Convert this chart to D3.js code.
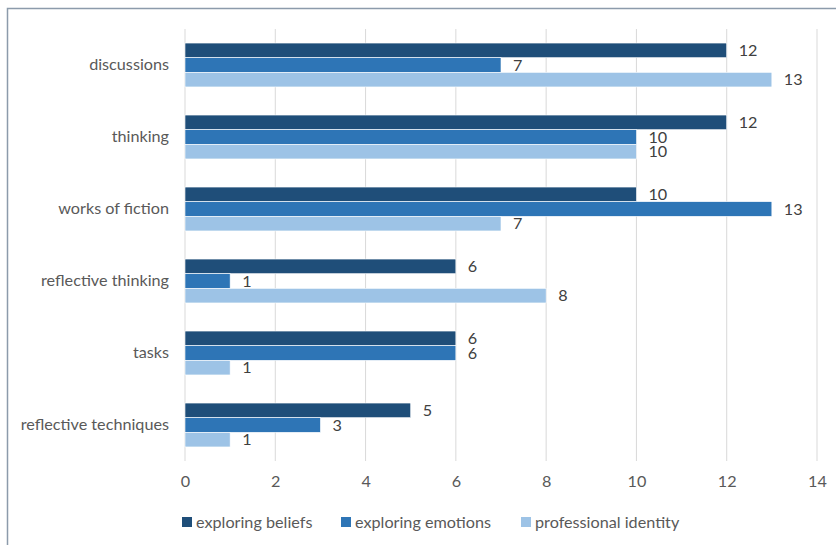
<!DOCTYPE html>
<html><head><meta charset="utf-8">
<script src="https://cdn.jsdelivr.net/npm/d3@7"></script>
<style>body{margin:0;background:#fff;} svg{display:block;}</style>
</head><body>
<script>
const categories = ["discussions","thinking","works of fiction","reflective thinking","tasks","reflective techniques"];
const seriesNames = ["exploring beliefs","exploring emotions","professional identity"];
const exploringBeliefs = [12,12,10,6,6,5];
const exploringEmotions = [7,10,13,1,6,3];
const professionalIdentity = [13,10,7,8,1,1];
const xTicks = [0,2,4,6,8,10,12,14];
const colors = ["#1f4e79","#2e75b6","#9dc3e6"];

const series = [exploringBeliefs, exploringEmotions, professionalIdentity];
const W = 836, H = 545;
const svg = d3.select("body").append("svg").attr("width", W).attr("height", H);
const font = "Lato, 'Open Sans', sans-serif";
const fs = 16.2;

svg.append("path").attr("d", "M7.5,545 L7.5,8.5 L836,8.5")
  .attr("fill","none").attr("stroke","#8c9bab").attr("stroke-width",1.5);

const x = d3.scaleLinear().domain([0,14]).range([185,817]);
const y = d3.scaleBand().domain(categories).range([29,461]).paddingInner(0.39).paddingOuter(0.195);
const ySub = d3.scaleBand().domain([0,1,2]).range([0, y.bandwidth()]);

svg.append("g").selectAll("line").data(xTicks).join("line")
  .attr("x1", d => x(d)).attr("x2", d => x(d))
  .attr("y1", 29).attr("y2", 461)
  .attr("stroke", "#d9d9d9").attr("stroke-width", 1);

const xAxis = svg.append("g").attr("transform","translate(0,461)")
  .call(d3.axisBottom(x).tickValues(xTicks).tickSize(0).tickPadding(14));
xAxis.select(".domain").remove();
xAxis.selectAll("text").attr("font-family", font).attr("font-size", fs).attr("fill","#595959");

const yAxis = svg.append("g").attr("transform","translate(185,0)")
  .call(d3.axisLeft(y).tickSize(0).tickPadding(16));
yAxis.select(".domain").remove();
yAxis.selectAll("text").attr("font-family", font).attr("font-size", fs).attr("fill","#595959");

series.forEach((vals, si) => {
  const g = svg.append("g");
  g.selectAll("rect").data(vals).join("rect")
    .attr("x", x(0))
    .attr("y", (d,i) => y(categories[i]) + ySub(si))
    .attr("width", d => x(d) - x(0))
    .attr("height", ySub.bandwidth())
    .attr("fill", colors[si])
    .attr("stroke", "#ffffff").attr("stroke-width", 0.6);
  g.selectAll("text").data(vals).join("text")
    .attr("x", d => x(d) + 12)
    .attr("y", (d,i) => y(categories[i]) + ySub(si) + ySub.bandwidth()/2)
    .attr("dy", "0.35em")
    .attr("font-family", font).attr("font-size", fs).attr("fill", "#404040")
    .text(d => d);
});

const legendX = [182, 341, 521];
const leg = svg.append("g");
seriesNames.forEach((n, i) => {
  leg.append("rect").attr("x", legendX[i]).attr("y", 517).attr("width", 10).attr("height", 10).attr("fill", colors[i]);
  leg.append("text").attr("x", legendX[i] + 14).attr("y", 522).attr("dy","0.35em")
    .attr("font-family", font).attr("font-size", fs).attr("fill", "#595959").text(n);
});
</script>
</body></html>
